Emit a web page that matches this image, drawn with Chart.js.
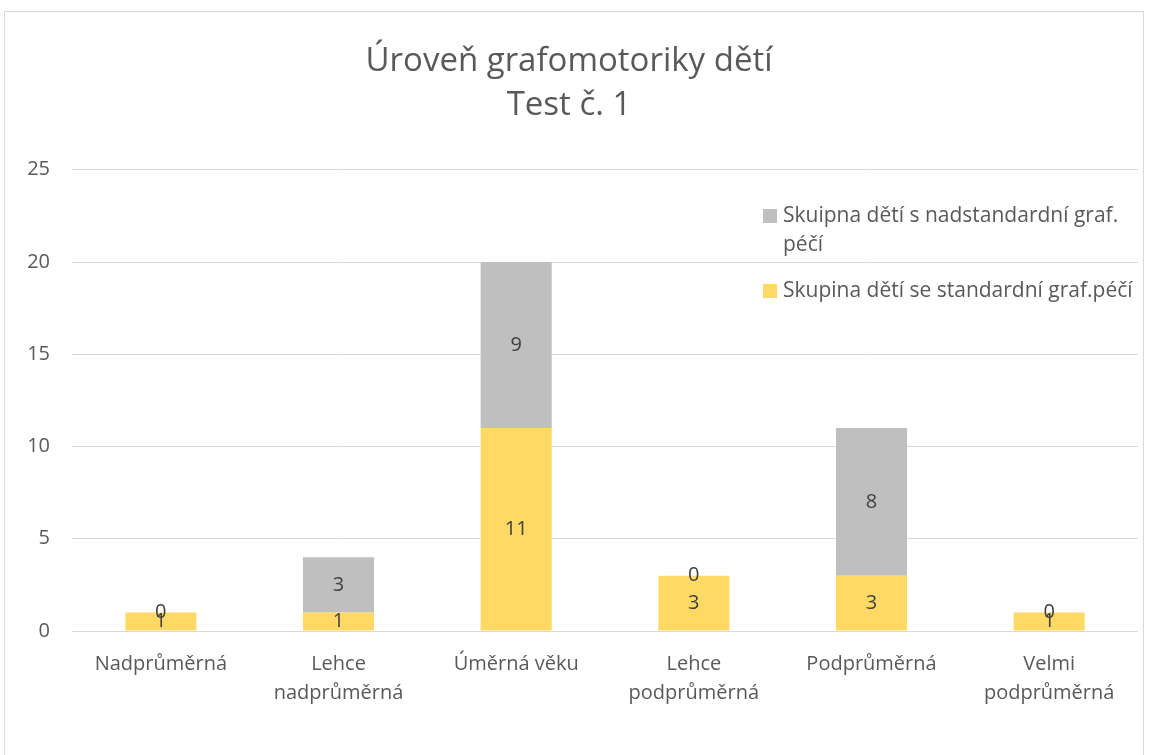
<!DOCTYPE html>
<html>
<head>
<meta charset="utf-8">
<script src="https://cdn.jsdelivr.net/npm/chart.js@4.4.1/dist/chart.umd.min.js"></script>
<style>
  html, body { margin:0; padding:0; background:#fff; }
  #frame {
    position:absolute; left:4px; top:11px;
    width:1140px; height:760px;
    border:1px solid #d9d9d9;
    box-sizing:border-box;
  }
  #wrap { position:absolute; left:0; top:0; width:1149px; height:755px; }
</style>
</head>
<body>
<div id="frame"></div>
<div id="wrap"><canvas id="gChart"></canvas></div>
<script>
/* =========================================================
   DATA
========================================================= */

const categories = [
  "Nadprůměrná",
  ["Lehce", "nadprůměrná"],
  "Úměrná věku",
  ["Lehce", "podprůměrná"],
  "Podprůměrná",
  ["Velmi", "podprůměrná"]
];

const standardGroup = [1, 1, 11, 3, 3, 1];

const aboveStandardGroup = [0, 3, 9, 0, 8, 0];

const seriesLabels = [
  ["Skupina dětí se standardní graf.péčí"],
  ["Skuipna dětí s nadstandardní graf.", "péčí"]
];

const titleLines = ["Úroveň grafomotoriky dětí", "Test č. 1"];

const yTicks = [0, 5, 10, 15, 20, 25];

/* =========================================================
   STYLE
========================================================= */

const FONT = "'Open Sans', sans-serif";
const TEXT = "#595959";

/* =========================================================
   PLUGINS
========================================================= */

const valueLabels = {
  id:"valueLabels",
  afterDatasetsDraw(chart){
    const c = chart.ctx;
    c.save();
    c.font = "20px " + FONT;
    c.fillStyle = "#404040";
    c.textAlign = "center";
    c.textBaseline = "middle";
    chart.data.datasets.forEach((ds, i) => {
      const meta = chart.getDatasetMeta(i);
      meta.data.forEach((bar, j) => {
        const mid = (bar.y + bar.base) / 2;
        c.fillText(String(ds.data[j]), bar.x, mid);
      });
    });
    c.restore();
  }
};

const sideLegend = {
  id:"sideLegend",
  afterDraw(chart){
    const c = chart.ctx;
    c.save();
    c.font = "21px " + FONT;
    c.textBaseline = "middle";
    c.textAlign = "left";
    let y = 216;
    const ds = chart.data.datasets.slice().reverse();
    ds.forEach(d => {
      c.fillStyle = d.backgroundColor;
      c.fillRect(763, y - 7, 14, 14);
      c.fillStyle = TEXT;
      d.legendLines.forEach(line => {
        c.fillText(line, 783, y);
        y += 29;
      });
      y += 17;
    });
    c.restore();
  }
};

/* =========================================================
   CHART
========================================================= */

const ctx =
  document
    .getElementById("gChart")
    .getContext("2d");

new Chart(ctx, {

  type:"bar",

  data:{
    labels:categories,
    datasets:[
      {
        label:seriesLabels[0].join(" "),
        legendLines:seriesLabels[0],
        data:standardGroup,
        backgroundColor:"#ffd966"
      },
      {
        label:seriesLabels[1].join(" "),
        legendLines:seriesLabels[1],
        data:aboveStandardGroup,
        backgroundColor:"#bfbfbf"
      }
    ]
  },

  options:{
    responsive:true,
    maintainAspectRatio:false,
    animation:false,
    categoryPercentage:1,
    barPercentage:0.4,
    layout:{
      padding:{ left:0, right:11, top:0, bottom:0 }
    },
    plugins:{
      legend:{ display:false },
      tooltip:{ enabled:false },
      title:{
        display:true,
        text:titleLines,
        color:TEXT,
        font:{ family:FONT, size:33, weight:"normal", lineHeight:1.33 },
        padding:{ top:40, bottom:42 }
      }
    },
    scales:{
      x:{
        stacked:true,
        grid:{ display:false },
        border:{ display:false },
        afterFit(scale){ scale.height = 124; },
        ticks:{
          color:TEXT,
          padding:11,
          maxRotation:0,
          autoSkip:false,
          font:{ family:FONT, size:20, lineHeight:1.45 }
        }
      },
      y:{
        stacked:true,
        min:0,
        max:25,
        afterFit(scale){ scale.width = 72; },
        afterBuildTicks(scale){
          scale.ticks = yTicks.map(v => ({ value:v }));
        },
        border:{ display:false },
        grid:{
          color:"#d9d9d9",
          drawTicks:false
        },
        ticks:{
          color:TEXT,
          padding:22,
          font:{ family:FONT, size:20 }
        }
      }
    }
  },

  plugins:[valueLabels, sideLegend]

});
</script>
</body>
</html>
